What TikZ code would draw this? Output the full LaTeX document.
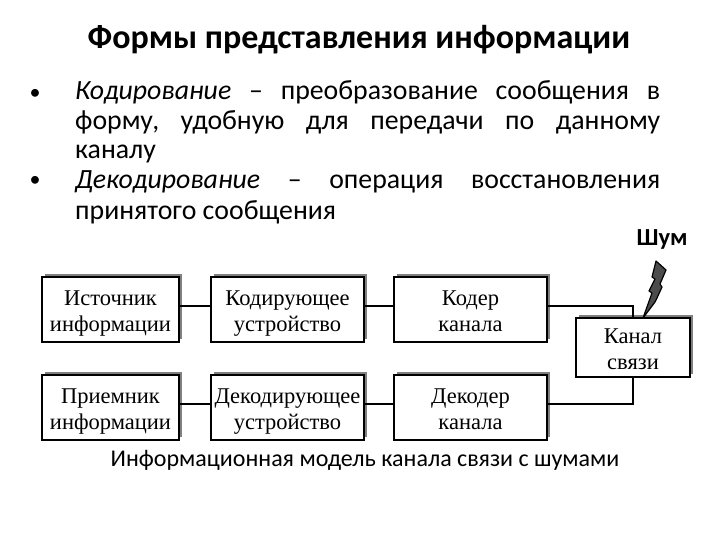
\documentclass[tikz,border=0pt]{standalone}
\usepackage{fontspec}
\setmainfont{Carlito}
\newfontfamily\boxfont{Liberation Serif}
\usetikzlibrary{shadows}
\frenchspacing
\newcommand{\twolines}[2]{\rule{0pt}{25pt}#1\\\rule[-7.8pt]{0pt}{7.8pt}#2}
\tikzset{
  x=1pt,y=-1pt,
  blockbox/.style={draw=black,line width=1.7pt,fill=white,inner sep=0pt,align=center,
    font=\boxfont\fontsize{22.5}{26}\selectfont,
    copy shadow={shadow xshift=3pt,shadow yshift=3pt,fill=black!50,draw=none}},
  wide/.style={blockbox,minimum height=65pt},
  link/.style={draw=black,line width=1.7pt},
  bodyline/.style={anchor=base west,inner sep=0pt,font=\fontsize{27.8}{30}\selectfont},
  bulletmark/.style={anchor=base,inner sep=0pt,font=\fontsize{22}{26}\selectfont}
}
\begin{document}
\begin{tikzpicture}
\useasboundingbox (0,0) rectangle (720,540);
\node[inner sep=0pt,anchor=base,font=\bfseries\fontsize{34}{38}\selectfont] (title) at (359,49) {Формы представления информации};

\node[bulletmark] (b1) at (35,100) {•};
\node[bulletmark] (b2) at (35,187) {•};
\node[bodyline] (l1) at (75,100) {\makebox[585pt][s]{\textit{Кодирование} – преобразование сообщения в}};
\node[bodyline] (l2) at (75,130) {\makebox[585pt][s]{форму, удобную для передачи по данному}};
\node[bodyline] (l3) at (75,159) {каналу};
\node[bodyline] (l4) at (75,189) {\makebox[585pt][s]{\textit{Декодирование} – операция восстановления}};
\node[bodyline] (l5) at (75,220) {принятого сообщения};

\node[inner sep=0pt,anchor=base,font=\bfseries\fontsize{24.5}{28}\selectfont] (noise) at (662,245) {Шум};

\node[wide,minimum width=137pt] (src) at (110.5,309.5) {\twolines{Источник}{информации}};
\node[wide,minimum width=153pt] (enc) at (287.5,309.5) {\twolines{Кодирующее}{устройство}};
\node[wide,minimum width=153pt] (cod) at (470.5,309.5) {\twolines{Кодер}{канала}};
\node[wide,minimum width=137pt] (dst) at (110.5,407.5) {\twolines{Приемник}{информации}};
\node[wide,minimum width=153pt] (dec) at (287.5,407.5) {\twolines{Декодирующее}{устройство}};
\node[wide,minimum width=153pt] (dcd) at (470.5,407.5) {\twolines{Декодер}{канала}};
\node[blockbox,minimum width=114pt,minimum height=57pt] (chan) at (633,347.5) {\twolines{Канал}{связи}};

\coordinate (upper) at (633,306);
\coordinate (lower) at (633,404);
\draw[link] (src.east |- upper) -- (enc.west |- upper);
\draw[link] (enc.east |- upper) -- (cod.west |- upper);
\draw[link] (dst.east |- lower) -- (dec.west |- lower);
\draw[link] (dec.east |- lower) -- (dcd.west |- lower);
\draw[link] (cod.east |- upper) -- (upper) -- (chan.north -| upper);
\draw[link] (dcd.east |- lower) -- (lower) -- (chan.south -| lower);

\draw[fill=black!70,draw=black,line width=1.2pt,line join=round]
  (643,318) -- (652,293) -- (649,291) -- (655,279) -- (652,277) -- (656,261) -- (666,270) -- (660,284) -- (662,287) -- (657,298) -- (655,302) -- cycle;

\node[inner sep=0pt,anchor=base,font=\fontsize{24}{28}\selectfont] (cap) at (365,466) {Информационная модель канала связи с шумами};
\end{tikzpicture}
\end{document}
